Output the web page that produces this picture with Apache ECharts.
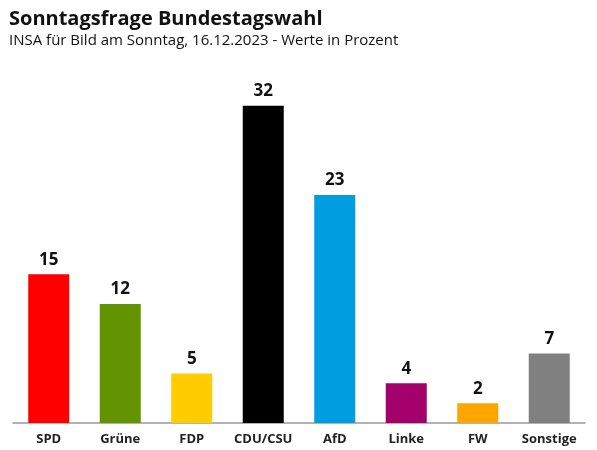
<!DOCTYPE html>
<html><head><meta charset="utf-8">
<script src="https://cdn.jsdelivr.net/npm/echarts@6/dist/echarts.min.js"></script>
<style>html,body{margin:0;padding:0;background:#fff}#c{width:597px;height:450px}</style>
</head><body><div id="c"></div>
<script>
const categories = ['SPD','Grüne','FDP','CDU/CSU','AfD','Linke','FW','Sonstige'];
const values = [15,12,5,32,23,4,2,7];
const colors = ['#ff0000','#639400','#ffcc00','#000000','#009ee0','#a3006b','#ffa500','#808080'];
const chart = echarts.init(document.getElementById('c'));
const font = 'Open Sans';
chart.setOption({
  animation:false,
  title:{text:'Sonntagsfrage Bundestagswahl',subtext:'INSA für Bild am Sonntag, 16.12.2023 - Werte in Prozent',left:4,top:4,itemGap:4,
    textStyle:{fontFamily:font,fontWeight:'bold',fontSize:20,color:'#111'},
    subtextStyle:{fontFamily:font,fontSize:15,color:'#111'}},
  grid:{left:13,right:12,top:76,bottom:27},
  xAxis:{type:'category',data:categories,axisTick:{show:false},
    axisLine:{lineStyle:{color:'#999',width:1.5}},
    axisLabel:{interval:0,fontFamily:font,fontWeight:'bold',fontSize:13,color:'#222',margin:10}},
  yAxis:{type:'value',min:0,max:35,show:false,splitLine:{show:false}},
  series:[{type:'bar',barWidth:41,
    data:values.map((v,i)=>({value:v,itemStyle:{color:colors[i]}})),
    label:{show:true,position:'top',distance:6,fontFamily:font,fontWeight:'bold',fontSize:17,color:'#111'}}]
});
</script></body></html>
